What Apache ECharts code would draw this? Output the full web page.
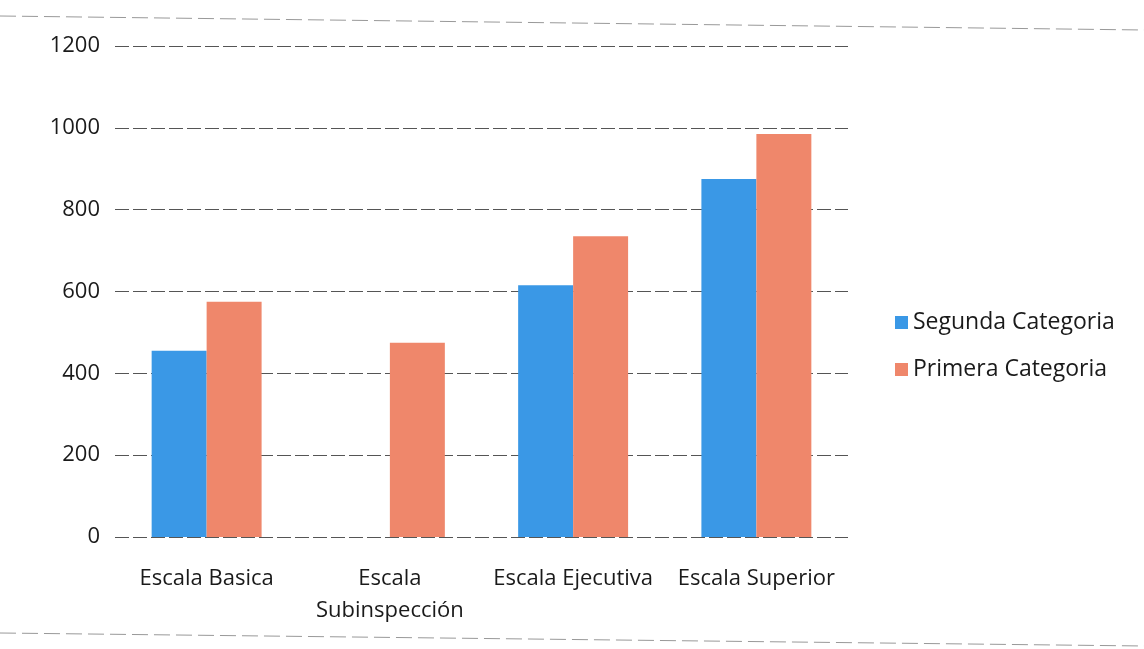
<!DOCTYPE html>
<html>
<head>
<meta charset="utf-8">
<script src="https://cdn.jsdelivr.net/npm/echarts@6/dist/echarts.min.js"></script>
<style>html,body{margin:0;padding:0;background:#fff;}#c{width:1144px;height:649px;}</style>
</head>
<body>
<div id="c"></div>
<script>
const categories = ['Escala Basica', 'Escala Subinspección', 'Escala Ejecutiva', 'Escala Superior'];
const segundaCategoria = [455, null, 615, 875];
const primeraCategoria = [575, 475, 735, 985];
const yTicks = { min: 0, max: 1200, interval: 200 };

const chart = echarts.init(document.getElementById('c'));
const font = 'Open Sans';
chart.setOption({
  backgroundColor: '#ffffff',
  animation: false,
  grid: { left: 115, right: 296, top: 46, bottom: 112 },
  legend: {
    orient: 'vertical',
    left: 890,
    top: 306,
    itemGap: 24,
    itemWidth: 13,
    itemHeight: 13,
    icon: 'rect',
    textStyle: { fontFamily: font, fontSize: 23, color: '#1a1a1a' },
    data: ['Segunda Categoria', 'Primera Categoria']
  },
  xAxis: {
    type: 'category',
    data: categories,
    axisLine: { show: false },
    axisTick: { show: false },
    axisLabel: {
      fontFamily: font, fontSize: 22, color: '#1a1a1a', margin: 26, lineHeight: 32, interval: 0,
      formatter: v => v === 'Escala Subinspección' ? 'Escala\nSubinspección' : v
    }
  },
  yAxis: {
    type: 'value',
    min: yTicks.min, max: yTicks.max, interval: yTicks.interval,
    axisLine: { show: false },
    axisTick: { show: false },
    axisLabel: { fontFamily: font, fontSize: 22, color: '#1a1a1a', margin: 15, formatter: v => String(v) },
    splitLine: { lineStyle: { color: '#555', width: 1, type: [14, 4] } }
  },
  series: [
    {
      name: 'Segunda Categoria', type: 'bar', data: segundaCategoria,
      barGap: '0%', barCategoryGap: '40%',
      itemStyle: { color: '#3a98e6' }
    },
    {
      name: 'Primera Categoria', type: 'bar', data: primeraCategoria,
      barGap: '0%', barCategoryGap: '40%',
      itemStyle: { color: '#ef876b' }
    }
  ],
  graphic: [
    { type: 'line', shape: { x1: 0, y1: 16, x2: 1144, y2: 30 }, style: { stroke: '#999', lineWidth: 1, lineDash: [16, 6] } },
    { type: 'line', shape: { x1: 0, y1: 633, x2: 1144, y2: 646 }, style: { stroke: '#999', lineWidth: 1, lineDash: [16, 6] } }
  ]
});
</script>
</body>
</html>
